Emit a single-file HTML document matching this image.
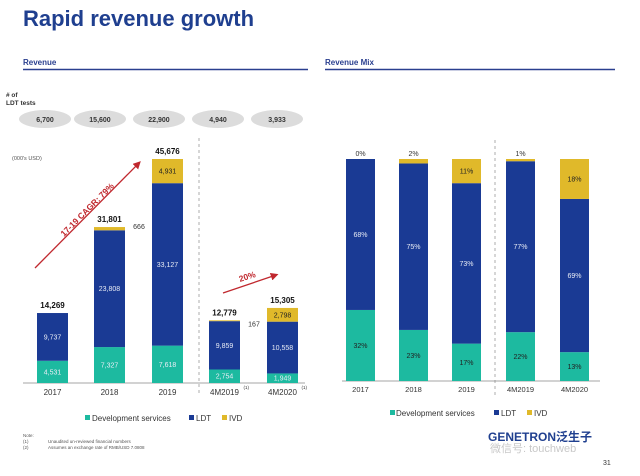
<!DOCTYPE html>
<html><head><meta charset="utf-8">
<style>
html,body{margin:0;padding:0;background:#fff;}
svg{display:block;font-family:"Liberation Sans","Noto Sans CJK SC",sans-serif;}
</style></head>
<body>
<svg id="s" width="640" height="476" viewBox="0 0 640 476" xmlns="http://www.w3.org/2000/svg">
<text x="23" y="26" font-size="22" font-weight="bold" fill="#1f3f8f">Rapid revenue growth</text>
<text x="23" y="65" font-size="8" font-weight="bold" fill="#2a3f8f">Revenue</text>
<line x1="23" y1="69.5" x2="308" y2="69.5" stroke="#2a3f8f" stroke-width="1.5"/>
<text x="325" y="65" font-size="8" font-weight="bold" fill="#2a3f8f">Revenue Mix</text>
<line x1="325" y1="69.5" x2="615" y2="69.5" stroke="#2a3f8f" stroke-width="1.5"/>
<text x="6" y="97" font-size="6.5" font-weight="bold" fill="#333"><tspan x="6">#  of</tspan><tspan x="6" dy="8">LDT tests</tspan></text>
<g id="ellipses"></g>
<text x="12" y="160" font-size="5.5" fill="#555">(000's USD)</text>
<line x1="199" y1="138" x2="199" y2="395" stroke="#999" stroke-dasharray="3,3" stroke-width="0.8"/>
<line x1="495" y1="140" x2="495" y2="395" stroke="#999" stroke-dasharray="3,3" stroke-width="0.8"/>
<g id="left"></g>
<g id="right"></g>
<defs><marker id="ah" markerWidth="6" markerHeight="6" refX="4" refY="3" orient="auto"><path d="M0,0 L6,3 L0,6 z" fill="#c0282e"/></marker></defs>
<line x1="35" y1="268" x2="139" y2="163" stroke="#c0282e" stroke-width="1.3" marker-end="url(#ah)"/>
<text transform="translate(64,237) rotate(-45)" font-size="8.5" font-weight="bold" fill="#c0282e">17-19 CAGR: 79%</text>
<line x1="223" y1="293" x2="276" y2="275" stroke="#c0282e" stroke-width="1.3" marker-end="url(#ah)"/>
<text transform="translate(240,282) rotate(-18)" font-size="8.5" font-weight="bold" fill="#c0282e">20%</text>
<g>
<rect x="85" y="415" width="5" height="5" fill="#1dbaa0"/><text x="92" y="421" font-size="8" fill="#333">Development services</text>
<rect x="189" y="415" width="5" height="5" fill="#1a3a94"/><text x="196" y="421" font-size="8" fill="#333">LDT</text>
<rect x="222" y="415" width="5" height="5" fill="#e0b92a"/><text x="229" y="421" font-size="8" fill="#333">IVD</text>
</g>
<g>
<rect x="390" y="410" width="5" height="5" fill="#1dbaa0"/><text x="396" y="416" font-size="8" fill="#333">Development services</text>
<rect x="494" y="410" width="5" height="5" fill="#1a3a94"/><text x="501" y="416" font-size="8" fill="#333">LDT</text>
<rect x="527" y="410" width="5" height="5" fill="#e0b92a"/><text x="534" y="416" font-size="8" fill="#333">IVD</text>
</g>
<g font-size="4.5" fill="#555">
<text x="23" y="437">Note:</text>
<text x="23" y="443">(1)</text><text x="48" y="443">Unaudited un-reviewed financial numbers</text>
<text x="23" y="449">(2)</text><text x="48" y="449">Assumes an exchange rate of RMB/USD  7.0808</text>
</g>
<text x="488" y="441" font-size="12" font-weight="bold" fill="#1f3f8f">GENETRON泛生子</text>
<text x="490" y="452" font-size="11" fill="#bbb" opacity="0.8">微信号: touchweb</text>
<text x="603" y="465" font-size="7" fill="#333">31</text>
</svg>
<script>
const categories=["2017","2018","2019","4M2019","4M2020"];
const devValues=[4531,7327,7618,2754,1949];
const ldtValues=[9737,23808,33127,9859,10558];
const ivdValues=[0,666,4931,167,2798];
const totals=[14269,31801,45676,12779,15305];
const ldtTests=["6,700","15,600","22,900","4,940","3,933"];
const devPct=[32,23,17,22,13];
const ldtPct=[68,75,73,77,69];
const ivdPct=[0,2,11,1,18];
const COL={dev:"#1dbaa0",ldt:"#1a3a94",ivd:"#e0b92a"};
const NS="http://www.w3.org/2000/svg";
function mk(tag,attrs,parent,txt){const e=document.createElementNS(NS,tag);for(const k in attrs)e.setAttribute(k,attrs[k]);if(txt!==undefined)e.textContent=txt;parent.appendChild(e);return e;}
const fmt=v=>v.toLocaleString("en-US");
const eg=document.getElementById("ellipses");
const ex=[45,100,159,218,277];
ldtTests.forEach((t,i)=>{
 const el=mk("ellipse",{cx:ex[i],cy:119,rx:26,ry:9,fill:"#dcdcdc"},eg);
 
 
 const tx=mk("text",{x:ex[i],y:122,"font-size":7,"font-weight":"bold","text-anchor":"middle",fill:"#333"},eg,t);
 
 
});
const L=document.getElementById("left");
const base=383, scale=224/45676;
const y=v=>base-v*scale;
const lx=[37,94,152,209,267], bw=31;
mk("line",{x1:23,y1:base,x2:305,y2:base,stroke:"#888","stroke-width":0.8},L);
categories.forEach((c,i)=>{
 const x=lx[i];let cum=0;
 [["dev",devValues[i]],["ldt",ldtValues[i]],["ivd",ivdValues[i]]].forEach(([k,v])=>{
  if(v<=0)return;
  const r=mk("rect",{x:x,y:y(cum+v),width:bw,height:v*scale,fill:COL[k]},L);
  
  
  const h=v*scale;
  if(h>7){
   const t=mk("text",{x:x+bw/2,y:y(cum+v/2)+2.5,"font-size":7,"text-anchor":"middle",fill:k==="ivd"?"#222":"#e8ecf5"},L,fmt(v));
   
   
  } else {
   const t=mk("text",{x:x+bw+14,y:y(cum+v)+(i===3?6:2),"font-size":7,"text-anchor":"middle",fill:"#333"},L,fmt(v));
   
   
  }
  cum+=v;
 });
 const tt=mk("text",{x:x+bw/2,y:y(totals[i])-5,"font-size":8,"font-weight":"bold","text-anchor":"middle",fill:"#111"},L,fmt(totals[i]));
 
 
 const xl=mk("text",{x:x+bw/2,y:395,"font-size":8,"text-anchor":"middle",fill:"#333"},L,c);
 
 
 if(i>=3){const sp=mk("text",{x:x+bw/2+19,y:389,"font-size":4.5,fill:"#333"},L,"(1)");
  
  }
});
const R=document.getElementById("right");
const rb=381, rt=159, rh=rb-rt;
const rx=[346,399,452,506,560], rw=29;
mk("line",{x1:342,y1:rb,x2:600,y2:rb,stroke:"#888","stroke-width":0.8},R);
categories.forEach((c,i)=>{
 const x=rx[i];const sum=devPct[i]+ldtPct[i]+ivdPct[i];let cum=0;
 [["dev",devPct[i]],["ldt",ldtPct[i]],["ivd",ivdPct[i]]].forEach(([k,v])=>{
  const h=v/sum*rh;
  if(v>0){
   const r=mk("rect",{x:x,y:rb-cum-h,width:rw,height:h,fill:COL[k]},R);
   
   
  }
  const inside=h>12;
  const ty=inside?rb-cum-h/2+2.5:rt-3;
  if(inside||k==="ivd"){
   const t=mk("text",{x:x+rw/2,y:ty,"font-size":7,"text-anchor":"middle",fill:inside?(k==="ldt"?"#e8ecf5":"#222"):"#333"},R,v+"%");
   
   
  }
  cum+=h;
 });
 const xl=mk("text",{x:x+rw/2,y:392,"font-size":7.5,"text-anchor":"middle",fill:"#333"},R,c);
 
 
});
</script>
</body></html>
